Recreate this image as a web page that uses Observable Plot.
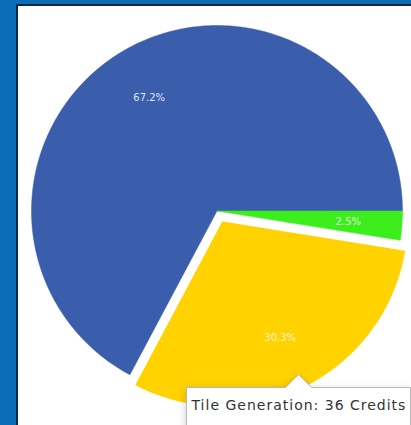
<!DOCTYPE html>
<html>
<head>
<meta charset="utf-8">
<script src="https://cdn.jsdelivr.net/npm/d3@7"></script>
<script src="https://cdn.jsdelivr.net/npm/@observablehq/plot@0.6"></script>
<style>
  html, body { margin: 0; padding: 0; }
  body { width: 411px; height: 425px; overflow: hidden; background: #0a6db5; position: relative; font-family: "DejaVu Sans", sans-serif; }
  #panel { position: absolute; left: 16px; top: 4px; width: 400px; height: 430px; background: #ffffff; border-left: 2px solid #0f2740; border-top: 2px solid #0f2740; }
  #chart { position: absolute; left: 0; top: 0; }
  #chart svg { background: transparent !important; overflow: visible; }
  #chart g[aria-label="tip"] text { letter-spacing: 1px; fill: #333333; }
</style>
</head>
<body>
<div id="panel"></div>
<div id="chart"></div>
<script>
// Data
const categories = ["Storage", "Geocoding", "Tile Generation"];
const credits = [80, 3, 36];
const colors = ["#3a5eab", "#3cee1c", "#ffd200"];
const exploded = [false, false, true];
const tipLabel = "Tile Generation";
const tipUnit = "Credits";

const total = d3.sum(credits);
const startDeg = 208; // compass angle where the first slice begins
const explodeAmt = 0.055;
const explodeScale = 1.01;
const labelR = 0.71;

// Build slices (clockwise from startDeg)
let acc = startDeg * Math.PI / 180;
const slices = categories.map((c, i) => {
  const sweep = credits[i] / total * 2 * Math.PI;
  const a0 = acc, a1 = acc + sweep;
  acc = a1;
  const mid = (a0 + a1) / 2;
  const off = exploded[i] ? explodeAmt : 0;
  return {category: c, value: credits[i], pct: credits[i] / total, a0, a1, mid,
          r: exploded[i] ? explodeScale : 1,
          ox: off * Math.sin(mid), oy: off * Math.cos(mid), color: colors[i], exploded: exploded[i]};
});

// Polygon vertices for each slice
const verts = [];
for (const s of slices) {
  const n = Math.max(4, Math.ceil((s.a1 - s.a0) / (Math.PI / 180)));
  verts.push({category: s.category, x: s.ox, y: s.oy});
  for (let k = 0; k <= n; k++) {
    const a = s.a0 + (s.a1 - s.a0) * k / n;
    verts.push({category: s.category, x: s.ox + s.r * Math.sin(a), y: s.oy + s.r * Math.cos(a)});
  }
  verts.push({category: s.category, x: s.ox, y: s.oy});
}
const isExp = v => slices.find(s => s.category === v.category).exploded;
const plain = verts.filter(v => !isExp(v));
const exp = verts.filter(v => isExp(v));

const labels = slices.map(s => ({
  text: (s.pct * 100).toFixed(1) + "%",
  x: s.ox + labelR * Math.sin(s.mid),
  y: s.oy + labelR * Math.cos(s.mid)
}));

const tipSlice = slices[categories.indexOf(tipLabel)];
const tipR = 0.985;
const NB = "\u00a0";
const tips = [{
  x: tipR * Math.sin(tipSlice.mid),
  y: tipR * Math.cos(tipSlice.mid),
  t: [NB, `${tipLabel}: ${tipSlice.value} ${tipUnit}`, NB, NB, NB, NB].join("\n")
}];

const chart = Plot.plot({
  width: 411,
  height: 425,
  marginLeft: 31,
  marginRight: 9,
  marginTop: 25,
  marginBottom: 29,
  x: {domain: [-1, 1], axis: null},
  y: {domain: [-1, 1], axis: null},
  color: {domain: categories, range: colors},
  style: {background: "transparent"},
  marks: [
    Plot.line(plain, {x: "x", y: "y", z: "category", fill: "category", stroke: "category", strokeWidth: 0.5, curve: "linear"}),
    Plot.line(exp, {x: "x", y: "y", z: "category", fill: "category", stroke: "white", strokeWidth: 2.5, strokeLinejoin: "miter", curve: "linear"}),
    Plot.text(labels, {x: "x", y: "y", text: "text", fill: "white", fillOpacity: 0.85, fontSize: 10, fontFamily: "DejaVu Sans"}),
    Plot.tip(tips, {x: "x", y: "y", title: "t", anchor: "top", fontSize: 14, lineHeight: 0.4, fontFamily: "DejaVu Sans", lineWidth: 80, pointerSize: 26, textPadding: 4, fill: "white", stroke: "#b8b8b8", fillOpacity: 1})
  ]
});
document.getElementById("chart").appendChild(chart);
</script>
</body>
</html>
